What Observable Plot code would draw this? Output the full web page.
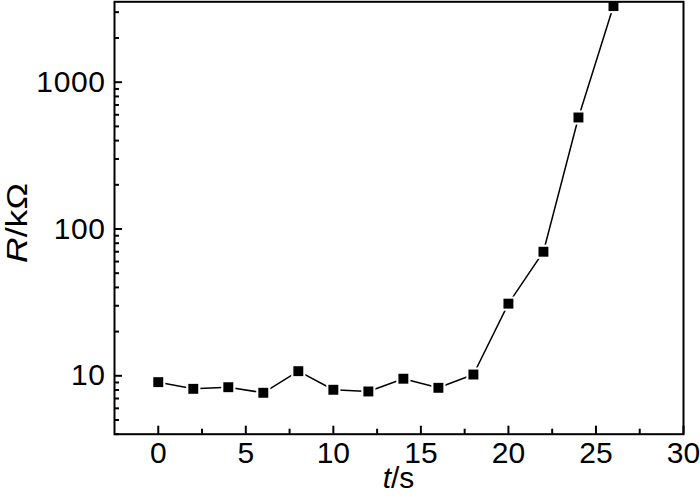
<!DOCTYPE html>
<html>
<head>
<meta charset="utf-8">
<script src="https://cdn.jsdelivr.net/npm/d3@7"></script>
<script src="https://cdn.jsdelivr.net/npm/@observablehq/plot@0.6"></script>
<style>
  html, body { margin: 0; padding: 0; background: #fff; }
  #chart svg { display: block; }
</style>
</head>
<body>
<div id="chart"></div>
<script>
// Data
const times = [0, 2, 4, 6, 8, 10, 12, 14, 16, 18, 20, 22, 24, 26];
const resistance = [9.05, 8.15, 8.36, 7.66, 10.75, 8.03, 7.82, 9.55, 8.28, 10.2, 31, 70, 575, 3300];

// Tick labels
const xMajorTicks = [0, 5, 10, 15, 20, 25, 30];
const xMinorTicks = [2.5, 7.5, 12.5, 17.5, 22.5, 27.5];
const yMajorTicks = [10, 100, 1000];
const yMinorTicks = [4, 5, 6, 7, 8, 9, 20, 30, 40, 50, 60, 70, 80, 90,
                     200, 300, 400, 500, 600, 700, 800, 900, 2000, 3000];

const data = times.map((t, i) => ({t, r: resistance[i]}));

const W = 700, H = 500;
const mL = 114, mR = 17, mT = 1.3, mB = 66.3;
const plotW = W - mL - mR, plotH = H - mT - mB;
const FONT = "'Liberation Sans', Arial, sans-serif";

const chart = Plot.plot({
  width: W,
  height: H,
  marginLeft: mL,
  marginRight: mR,
  marginTop: mT,
  marginBottom: mB,
  style: {fontFamily: FONT, fontSize: "30px", background: "#fff", color: "#000"},
  x: {domain: [-2.5, 30]},
  y: {type: "log", domain: [4, 3530]},
  marks: [
    // axis labels (ticks drawn inward below)
    Plot.axisX(xMajorTicks, {tickSize: 0, tickPadding: 7, fontSize: 30, label: null, tickFormat: d => String(d)}),
    Plot.axisY(yMajorTicks, {tickSize: 0, tickPadding: 9, fontSize: 30, label: null, tickFormat: d => String(d)}),
    // inward ticks
    Plot.tickX(xMajorTicks, {x: d => d, insetTop: plotH - 8, stroke: "#000", strokeWidth: 2}),
    Plot.tickX(xMinorTicks, {x: d => d, insetTop: plotH - 5, stroke: "#000", strokeWidth: 2}),
    Plot.tickY(yMajorTicks, {y: d => d, insetRight: plotW - 8, stroke: "#000", strokeWidth: 2}),
    Plot.tickY(yMinorTicks, {y: d => d, insetRight: plotW - 5, stroke: "#000", strokeWidth: 2}),
    // series
    Plot.line(data, {x: "t", y: "r", stroke: "#000", strokeWidth: 1.5}),
    Plot.dot(data, {x: "t", y: "r", symbol: "square", r: 8, fill: "#fff"}),
    Plot.dot(data, {x: "t", y: "r", symbol: "square", r: 5.6, fill: "#000"}),
    Plot.frame({stroke: "#000", strokeWidth: 2})
  ]
});

document.getElementById("chart").appendChild(chart);

// slightly wider y tick labels, as in the reference
d3.select(chart).selectAll("[aria-label='y-axis tick label'] text").attr("letter-spacing", 0.6);

// Axis titles with italic symbols
const svg = d3.select(chart);
const xl = svg.append("text")
  .attr("x", mL + plotW / 2)
  .attr("y", 488)
  .attr("text-anchor", "middle")
  .attr("font-size", 30)
  .attr("font-family", FONT)
  .attr("fill", "#000");
xl.append("tspan").attr("font-style", "italic").text("t");
xl.append("tspan").text("/s");

const yl = svg.append("text")
  .attr("transform", "translate(27,223) rotate(-90)")
  .attr("text-anchor", "middle")
  .attr("font-size", 29)
  .attr("font-family", FONT)
  .attr("textLength", 80)
  .attr("lengthAdjust", "spacingAndGlyphs")
  .attr("fill", "#000");
yl.append("tspan").attr("font-style", "italic").text("R");
yl.append("tspan").text("/kΩ");
</script>
</body>
</html>
